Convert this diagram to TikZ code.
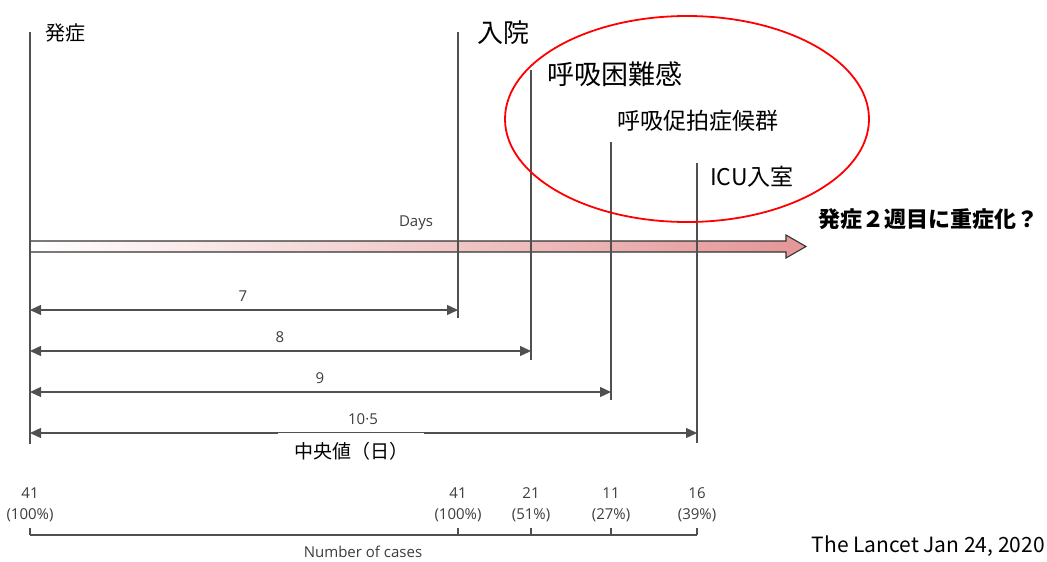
\documentclass[tikz,border=0pt]{standalone}
\usepackage{fontspec}
\setmainfont{Open Sans}
\newfontfamily\jp{Noto Sans CJK JP}
\usetikzlibrary{arrows.meta}
\definecolor{bandpink}{RGB}{228,150,150}
\definecolor{gline}{RGB}{80,80,80}
\definecolor{glab}{RGB}{60,60,60}
\tikzset{
  vline/.style={draw=gline, line width=1.3pt},
  dimarrow/.style={draw=gline, line width=1.3pt,
    {Triangle[length=11pt,width=10pt]}-{Triangle[length=11pt,width=10pt]}},
  lab/.style={font=\fontsize{15}{21}\selectfont, text=glab, inner sep=0pt},
  jplab/.style={anchor=west, inner sep=0pt, text=black},
}
\begin{document}
\begin{tikzpicture}[x=1pt,y=-1pt]
\useasboundingbox (0,0) rectangle (1047,562);

% gradient band arrow
\shade[left color=white, right color=bandpink, draw=black!80, line width=1.1pt]
  (30,241) -- (786,241) -- (786,235) -- (806,246.5) -- (786,258) -- (786,252) -- (30,252) -- cycle;
\node[lab] (days) at (416,223) {Days};

% vertical event lines
\coordinate (onT) at (30,32);   \coordinate (onB) at (30,444);
\coordinate (adT) at (458,32);  \coordinate (adB) at (458,318);
\coordinate (dyT) at (531,70);  \coordinate (dyB) at (531,360);
\coordinate (arT) at (611,142); \coordinate (arB) at (611,400);
\coordinate (icT) at (697,163); \coordinate (icB) at (697,443);
\draw[vline] (onT) -- (onB);
\draw[vline] (adT) -- (adB);
\draw[vline] (dyT) -- (dyB);
\draw[vline] (arT) -- (arB);
\draw[vline] (icT) -- (icB);

% dimension arrows
\coordinate (a1L) at (30,310); \coordinate (a1R) at (458,310);
\coordinate (a2L) at (30,351); \coordinate (a2R) at (531,351);
\coordinate (a3L) at (30,392); \coordinate (a3R) at (611,392);
\coordinate (a4L) at (30,433); \coordinate (a4R) at (697,433);
\draw[dimarrow] (a1L) -- (a1R);
\draw[dimarrow] (a2L) -- (a2R);
\draw[dimarrow] (a3L) -- (a3R);
\draw[dimarrow] (a4L) -- (a4R);
\node[lab] (d7) at (243,296) {7};
\node[lab] (d8) at (280,337) {8};
\node[lab] (d9) at (320,378) {9};
\node[lab] (d105) at (363,419) {10·5};
\node[fill=white, minimum width=146pt, minimum height=37pt, inner sep=0pt,
      font=\jp\fontsize{19}{21}\selectfont] (median) at (351,451) {中央値（日）};

% Japanese event labels
\node[jplab, font=\jp\fontsize{20}{22}\selectfont] (onset) at (45,33) {発症};
\node[jplab, font=\jp\fontsize{26}{28}\selectfont] (adm) at (477,33) {入院};
\node[jplab, font=\jp\fontsize{27}{29}\selectfont] (dysp) at (547,74) {呼吸困難感};
\node[jplab, font=\jp\fontsize{23}{25}\selectfont] (ards) at (617,121) {呼吸促拍症候群};
\node[jplab, font=\jp\fontsize{23}{25}\selectfont] (icu) at (710,177) {ICU入室};
\node[jplab, font=\jp\bfseries\fontsize{22}{24}\selectfont] (sev) at (818,219) {発症２週目に重症化？};

% red ellipse
\draw[red, line width=1.8pt] (687,119) ellipse [x radius=182, y radius=103];

% number of cases axis
\coordinate (axL) at (30,535); \coordinate (axR) at (697,535);
\draw[draw=gline, line width=1.2pt] (axL) -- (axR);
\foreach \x in {30,458,531,611,697} {
  \draw[draw=gline, line width=1.2pt] (\x,535) -- (\x,528);
}
\node[lab, align=center] (n1) at (30,505) {41\\(100\%)};
\node[lab, align=center] (n2) at (458,505) {41\\(100\%)};
\node[lab, align=center] (n3) at (531,505) {21\\(51\%)};
\node[lab, align=center] (n4) at (611,505) {11\\(27\%)};
\node[lab, align=center] (n5) at (697,505) {16\\(39\%)};
\node[lab] (ncases) at (363,552) {Number of cases};

\node[anchor=east, inner sep=0pt, font=\jp\fontsize{21}{23}\selectfont] (src) at (1045,546) {The Lancet Jan 24, 2020};
\end{tikzpicture}
\end{document}
